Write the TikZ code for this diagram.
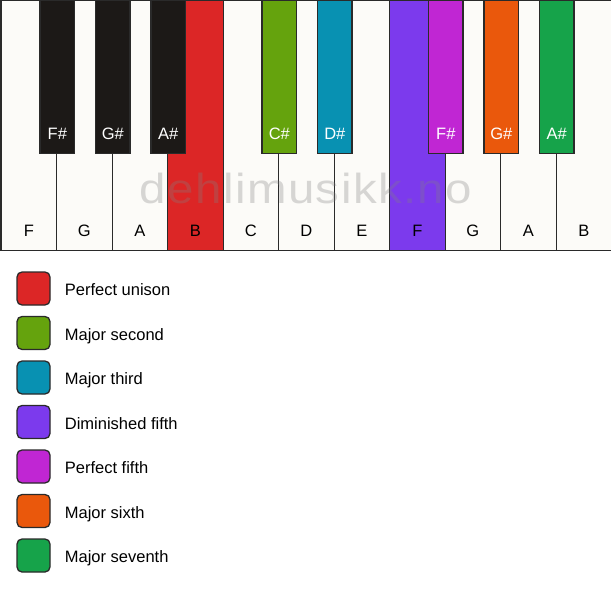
\documentclass[tikz,border=0pt]{standalone}
\usepackage{fontspec}
\setmainfont{Liberation Sans}
\newfontfamily\marcafont[LetterSpace=3]{Liberation Sans}
\usetikzlibrary{positioning}

\definecolor{borde}{HTML}{2A2A2A}
\definecolor{marfil}{HTML}{FCFBF8}
\definecolor{negro}{HTML}{1C1917}
\definecolor{rojo}{HTML}{DC2626}
\definecolor{lima}{HTML}{65A30D}
\definecolor{cian}{HTML}{0891B2}
\definecolor{violeta}{HTML}{7C3AED}
\definecolor{fucsia}{HTML}{C026D3}
\definecolor{naranja}{HTML}{EA580C}
\definecolor{verde}{HTML}{16A34A}

\tikzset{
	blanca/.style={draw=borde, line width=1.3pt, fill=marfil, anchor=north west,
		minimum width=55.5pt, minimum height=250pt, inner sep=0pt},
	negra/.style={draw=borde, line width=1.3pt, fill=negro, anchor=north,
		minimum width=34.5pt, minimum height=153pt, inner sep=0pt},
	nota/.style={font=\fontsize{16.5}{20}\selectfont, text=black, inner sep=0pt},
	sostenido/.style={nota, text=white},
	caja/.style={draw=borde, line width=1.3pt, rounded corners=5pt,
		minimum size=33pt, inner sep=0pt},
	leyenda/.style={font=\fontsize{16.5}{20}\selectfont, inner sep=0pt,
		text height=16pt, text depth=1.2pt},
	marca/.style={font=\marcafont\fontsize{42}{48}\selectfont, text=gray,
		opacity=0.3, anchor=base, inner sep=0pt, xscale=1.13}
}

\begin{document}
\begin{tikzpicture}[x=1pt, y=-1pt]
	\useasboundingbox (0, 0) rectangle (611, 594);
	% teclas blancas
	\foreach \n/\c [count=\i] in {F/marfil, G/marfil, A/marfil, B/rojo, C/marfil,
		D/marfil, E/marfil, F/violeta, G/marfil, A/marfil, B/marfil} {
		\node[blanca, fill=\c] (w\i) at ({0.5 + 55.5*(\i-1)}, 0) {};
		\node[nota] (tw\i) at ([yshift=20pt]w\i.south) {\n};
	}
	% marca de agua
	\node[marca] (marca) at (306, 203.5) {dehlimusikk.no};
	% teclas negras, sobre el borde de las blancas
	\foreach \n/\c/\k [count=\i] in {F\#/negro/1, G\#/negro/2, A\#/negro/3,
		C\#/lima/5, D\#/cian/6, F\#/fucsia/8, G\#/naranja/9, A\#/verde/10} {
		\node[negra, fill=\c] (b\i) at (w\k.north east) {};
		\node[sostenido] (tb\i) at ([yshift=20pt]b\i.south) {\n};
	}
	% leyenda
	\foreach \c/\t [count=\i] in {rojo/Perfect unison, lima/Major second,
		cian/Major third, violeta/Diminished fifth, fucsia/Perfect fifth,
		naranja/Major sixth, verde/Major seventh} {
		\node[caja, fill=\c] (c\i) at (33.5, {288.5 + 44.5*(\i-1)}) {};
		\node[leyenda, right=14pt of c\i] (l\i) {\t};
	}
\end{tikzpicture}
\end{document}
